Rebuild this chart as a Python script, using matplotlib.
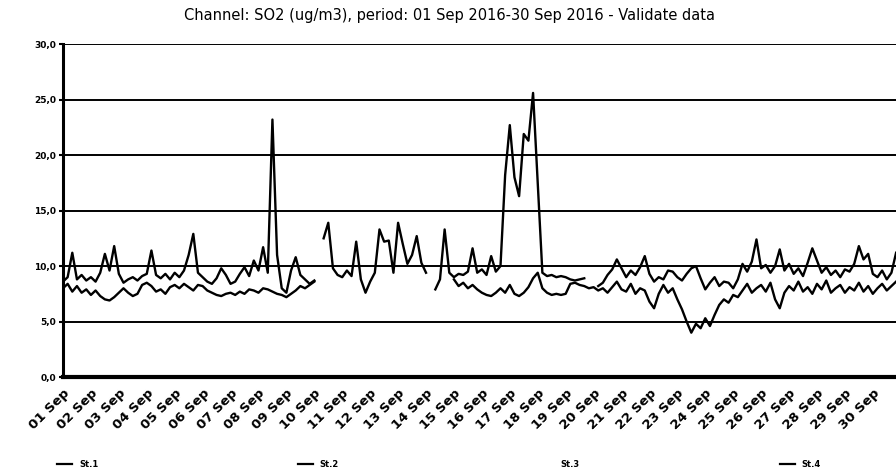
import matplotlib

matplotlib.use("Agg")
import matplotlib.pyplot as plt  # noqa: E402
import numpy as np  # noqa: E402
import pandas as pd  # noqa: E402
from matplotlib.lines import Line2D  # noqa: E402

nan = np.nan

# 4-hourly readings, 01 Sep 00:00 .. 30 Sep 20:00
times = pd.date_range("2016-09-01", periods=180, freq="4h")

st1 = [
    8.0, 8.4, 7.7, 8.2, 7.6, 7.9, 7.4, 7.8, 7.3, 7.0, 6.9, 7.2,
    7.6, 8.0, 7.6, 7.3, 7.5, 8.3, 8.5, 8.2, 7.7, 7.9, 7.5, 8.1,
    8.3, 8.0, 8.4, 8.1, 7.8, 8.3, 8.2, 7.8, 7.6, 7.4, 7.3, 7.5,
    7.6, 7.4, 7.7, 7.5, 7.9, 7.8, 7.6, 8.0, 7.9, 7.7, 7.5, 7.4,
    7.2, 7.5, 7.8, 8.2, 8.0, 8.3, 8.6, nan, nan, nan, nan, nan,
    nan, nan, nan, nan, nan, nan, nan, nan, nan, nan, nan, nan,
    nan, nan, nan, nan, nan, nan, nan, nan, nan, nan, nan, nan,
    8.8, 8.2, 8.5, 8.0, 8.3, 7.9, 7.6, 7.4, 7.3, 7.6, 8.0, 7.6,
    8.3, 7.5, 7.3, 7.6, 8.1, 8.9, 9.4, 8.0, 7.6, 7.4, 7.5, 7.4,
    7.5, 8.4, 8.5, 8.3, 8.2, 8.0, 8.1, 7.8, 8.0, 7.6, 8.1, 8.6,
    7.9, 7.7, 8.4, 7.5, 8.0, 7.8, 6.8, 6.2, 7.5, 8.3, 7.6, 8.0,
    7.0, 6.1, 5.0, 4.0, 4.8, 4.4, 5.3, 4.6, 5.6, 6.5, 7.0, 6.7,
    7.4, 7.2, 7.8, 8.4, 7.6, 8.0, 8.3, 7.7, 8.5, 7.0, 6.2, 7.6,
    8.2, 7.8, 8.6, 7.7, 8.1, 7.5, 8.4, 7.9, 8.7, 7.6, 8.0, 8.3,
    7.6, 8.1, 7.8, 8.5, 7.7, 8.2, 7.5, 8.0, 8.4, 7.8, 8.2, 8.6,
]

st2 = [
    8.6, 9.0, 11.2, 8.8, 9.2, 8.7, 9.0, 8.6, 9.4, 11.1, 9.6, 11.8,
    9.3, 8.5, 8.8, 9.0, 8.7, 9.1, 9.3, 11.4, 9.2, 8.9, 9.3, 8.8,
    9.4, 9.0, 9.6, 11.0, 12.9, 9.4, 9.0, 8.6, 8.4, 8.9, 9.8, 9.2,
    8.4, 8.6, 9.3, 9.9, 9.1, 10.5, 9.6, 11.7, 9.4, 23.2, 11.0, 8.0,
    7.6, 9.6, 10.8, 9.2, 8.8, 8.4, 8.7, nan, 12.5, 13.9, 9.8, 9.2,
    9.0, 9.6, 9.1, 12.2, 8.8, 7.6, 8.6, 9.4, 13.3, 12.2, 12.3, 9.4,
    13.9, 12.0, 10.2, 11.0, 12.7, 10.3, 9.4, nan, 7.9, 8.8, 13.3, 9.4,
    9.0, 9.3, 9.2, 9.5, 11.6, 9.4, 9.7, 9.2, 10.9, 9.5, 10.0, 18.2,
    22.7, 18.0, 16.3, 21.9, 21.3, 25.6, 17.5, 9.4, 9.1, 9.2, 9.0, 9.1,
    9.0, 8.8, 8.7, 8.8, 8.9, nan, nan, 8.2, 8.5, 9.2, 9.7, 10.6,
    9.8, 9.0, 9.6, 9.2, 9.9, 10.9, 9.3, 8.6, 9.0, 8.8, 9.6, 9.5,
    9.0, 8.7, 9.3, 9.8, 10.0, 8.9, 7.9, 8.5, 9.0, 8.2, 8.6, 8.5,
    8.0, 8.8, 10.2, 9.5, 10.4, 12.4, 9.8, 10.1, 9.4, 10.0, 11.5, 9.6,
    10.2, 9.3, 9.8, 9.1, 10.3, 11.6, 10.5, 9.4, 9.9, 9.2, 9.6, 9.0,
    9.7, 9.5, 10.2, 11.8, 10.6, 11.1, 9.3, 9.0, 9.6, 8.8, 9.4, 11.2,
]

legend_labels = ["St.1", "St.2", "St.3", "St.4"]
y_ticks = [0, 5, 10, 15, 20, 25, 30]
title = "Channel: SO2 (ug/m3), period: 01 Sep 2016-30 Sep 2016 - Validate data"

fig = plt.figure(figsize=(8.96, 4.69), dpi=100)
ax = fig.add_axes([0.0703, 0.196, 0.935, 0.71])

ax.plot(times, st1, color="black", lw=1.7)
ax.plot(times, st2, color="black", lw=1.7)

ax.set_xlim(pd.Timestamp("2016-09-01"), pd.Timestamp("2016-10-01"))
ax.set_ylim(0, 30)
ax.set_yticks(y_ticks)
ax.set_yticklabels([f"{v:.1f}".replace(".", ",") for v in y_ticks],
                   fontsize=6.5, fontweight="bold")
ax.yaxis.grid(True, color="black", lw=1.4)
ax.set_axisbelow(True)

days = pd.date_range("2016-09-01", "2016-09-30", freq="D")
ax.set_xticks(days)
ax.set_xticklabels([d.strftime("%d Sep") for d in days], rotation=45,
                   ha="right", rotation_mode="anchor",
                   fontsize=9.5, fontweight="bold")
ax.tick_params(axis="x", length=0, pad=7)
ax.tick_params(axis="y", length=3, width=1.5, pad=2)

for side in ["top", "right"]:
    ax.spines[side].set_visible(False)
ax.spines["left"].set_linewidth(2.2)
ax.spines["bottom"].set_linewidth(3)

fig.text(0.502, 0.968, title, ha="center", va="center", fontsize=10.5)

handles = [
    Line2D([], [], color="black", lw=1.6),
    Line2D([], [], color="black", lw=1.6),
    Line2D([], [], color="none", lw=1.6),
    Line2D([], [], color="black", lw=1.6),
]
fig.legend(handles, legend_labels, loc="lower center", ncol=4,
           bbox_to_anchor=(0.49, -0.015), frameon=False, handlelength=1.8,
           columnspacing=24, prop={"size": 6, "weight": "bold"})

fig.savefig("out.png", dpi=100)
